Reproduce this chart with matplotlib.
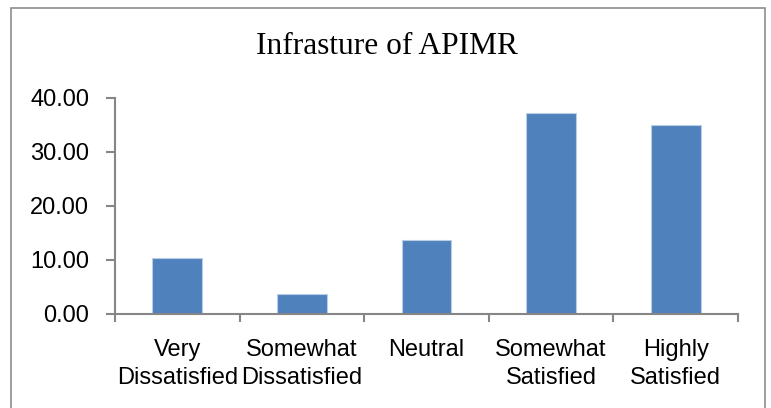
import matplotlib.pyplot as plt
from matplotlib.patches import Rectangle
import numpy as np

# DATA
categories = ['Very\nDissatisfied', 'Somewhat\nDissatisfied', 'Neutral',
              'Somewhat\nSatisfied', 'Highly\nSatisfied']
values = [10.4, 3.75, 13.65, 37.2, 35.0]
yticks = [0, 10, 20, 30, 40]

fig = plt.figure(figsize=(7.71, 4.08), dpi=100)
ax = fig.add_axes([115/771, 94/408, 623/771, 216/408])

x = np.arange(len(categories))
ax.bar(x, values, width=0.4, color='#4F81BD', edgecolor='#B9CDE5', linewidth=0.8)

ax.set_xlim(-0.5, len(categories) - 0.5)
ax.set_ylim(0, 40)
ax.set_yticks(yticks)
ax.set_yticklabels(['%.2f' % v for v in yticks], fontsize=17, family='Liberation Sans')

# labels centred on bars, ticks on category boundaries
ax.set_xticks(x)
ax.set_xticklabels(categories, fontsize=17, family='Liberation Sans', linespacing=1.35)
ax.set_xticks(np.arange(len(categories) + 1) - 0.5, minor=True)
ax.tick_params(axis='x', which='major', length=0, pad=18)
ax.tick_params(axis='x', which='minor', length=6, width=1.5, color='#868686', direction='out')
ax.tick_params(axis='y', length=6.5, width=1.5, color='#868686', pad=12)

for s in ['top', 'right']:
    ax.spines[s].set_visible(False)
for s in ['left', 'bottom']:
    ax.spines[s].set_color('#868686')
    ax.spines[s].set_linewidth(1.5)

fig.text(387/771, 1 - 47/408, 'Infrasture of APIMR', ha='center', va='center',
         fontsize=22.6, family='Liberation Serif')

# chart border
fig.patches.append(Rectangle((11/771, -0.1), 754/771, 1.1 - 8/408,
                             transform=fig.transFigure, fill=False,
                             edgecolor='#8C8C8C', linewidth=1.2))

fig.savefig('out.png', dpi=100)
